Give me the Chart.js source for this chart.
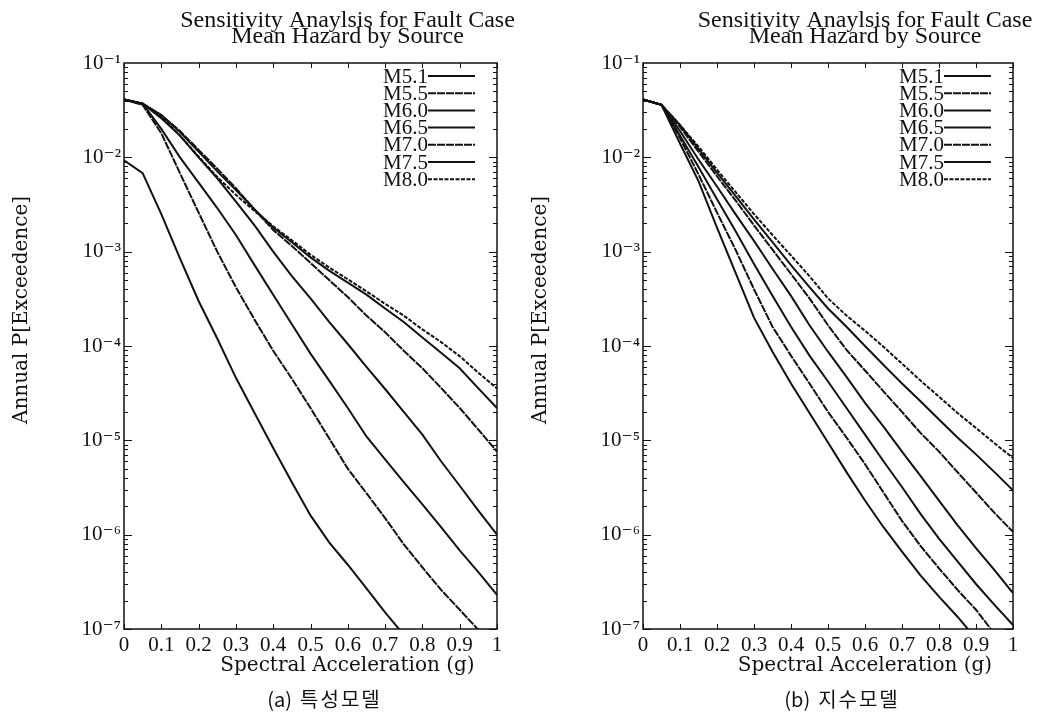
<!DOCTYPE html>
<html>
<head>
<meta charset="utf-8">
<title>Mean Hazard by Source</title>
<script src="https://cdn.jsdelivr.net/npm/chart.js@4.4.1/dist/chart.umd.min.js"></script>
<style>
  html, body { margin: 0; padding: 0; background: #fff; }
  #wrap { position: relative; width: 1048px; height: 727px; overflow: hidden; }
  canvas { position: absolute; top: 0; }
  #chartA { left: 0; }
  #chartB { left: 519px; }
</style>
</head>
<body>
<div id="wrap">
  <canvas id="chartA" width="524" height="727"></canvas>
  <canvas id="chartB" width="524" height="727"></canvas>
</div>
<script>
// spectral acceleration (g) where the hazard is evaluated
var accel = [0, 0.05, 0.1, 0.15, 0.2, 0.25, 0.3, 0.35, 0.4, 0.45, 0.5,
             0.55, 0.6, 0.65, 0.7, 0.75, 0.8, 0.85, 0.9, 0.95, 1.0];
var magnitudes = ['M5.1', 'M5.5', 'M6.0', 'M6.5', 'M7.0', 'M7.5', 'M8.0'];
var dashes = [[], [8, 1], [], [], [8, 1], [], [4, 1.5]];
var decadeTicks = [1e-1, 1e-2, 1e-3, 1e-4, 1e-5, 1e-6, 1e-7];
var titleLines = ['Sensitivity Anaylsis for Fault Case', 'Mean Hazard by Source'];

// (a) characteristic model - annual exceedance probability
var charM51 = [9.3e-3, 6.8e-3, 2.5e-3, 8.5e-4, 3.0e-4, 1.2e-4, 4.6e-5, 1.95e-5, 8.3e-6, 3.6e-6, 1.6e-6,
               8.3e-7, 4.8e-7, 2.7e-7, 1.5e-7, 8.7e-8];
var charM55 = [4.1e-2, 3.6e-2, 1.8e-2, 6.8e-3, 2.6e-3, 1.0e-3, 4.2e-4, 1.9e-4, 8.9e-5, 4.5e-5, 2.2e-5,
               1.05e-5, 5.0e-6, 2.75e-6, 1.5e-6, 7.9e-7, 4.5e-7, 2.6e-7, 1.6e-7, 9.8e-8];
var charM60 = [4.1e-2, 3.7e-2, 2.0e-2, 1.0e-2, 5.4e-3, 2.9e-3, 1.5e-3, 7.2e-4, 3.5e-4, 1.7e-4, 8.3e-5,
               4.3e-5, 2.2e-5, 1.1e-5, 6.3e-6, 3.6e-6, 2.1e-6, 1.2e-6, 6.8e-7, 4.0e-7, 2.3e-7];
var charM65 = [4.1e-2, 3.7e-2, 2.6e-2, 1.7e-2, 1.0e-2, 6.0e-3, 3.4e-3, 1.9e-3, 1.0e-3, 5.5e-4, 3.2e-4,
               1.8e-4, 1.05e-4, 6.0e-5, 3.5e-5, 2.0e-5, 1.15e-5, 6.0e-6, 3.3e-6, 1.8e-6, 1.0e-6];
var charM70 = [4.1e-2, 3.7e-2, 2.8e-2, 1.9e-2, 1.2e-2, 7.6e-3, 4.7e-3, 2.8e-3, 1.7e-3, 1.15e-3, 7.6e-4,
               5.0e-4, 3.3e-4, 2.1e-4, 1.4e-4, 8.9e-5, 5.8e-5, 3.6e-5, 2.2e-5, 1.3e-5, 7.6e-6];
var charM75 = [4.1e-2, 3.7e-2, 2.8e-2, 1.85e-2, 1.15e-2, 7.1e-3, 4.5e-3, 2.8e-3, 1.8e-3, 1.26e-3, 8.7e-4,
               6.3e-4, 4.7e-4, 3.5e-4, 2.5e-4, 1.8e-4, 1.23e-4, 8.5e-5, 5.8e-5, 3.55e-5, 2.2e-5];
var charM80 = [4.1e-2, 3.7e-2, 2.7e-2, 1.7e-2, 1.02e-2, 6.2e-3, 4.0e-3, 2.7e-3, 1.86e-3, 1.32e-3, 9.3e-4,
               6.8e-4, 5.1e-4, 3.8e-4, 2.8e-4, 2.1e-4, 1.5e-4, 1.1e-4, 7.8e-5, 5.2e-5, 3.55e-5];

// (b) exponential model
var expM51 = [4.1e-2, 3.6e-2, 1.4e-2, 5.6e-3, 1.8e-3, 6.0e-4, 2.0e-4, 8.7e-5, 4.0e-5, 1.95e-5, 9.5e-6,
              4.6e-6, 2.3e-6, 1.2e-6, 6.6e-7, 3.7e-7, 2.2e-7, 1.35e-7, 7.9e-8];
var expM55 = [4.1e-2, 3.6e-2, 1.6e-2, 6.6e-3, 2.6e-3, 1.05e-3, 4.0e-4, 1.6e-4, 7.9e-5, 4.0e-5, 2.0e-5,
              1.07e-5, 5.6e-6, 2.8e-6, 1.4e-6, 7.6e-7, 4.4e-7, 2.6e-7, 1.6e-7, 8.9e-8];
var expM60 = [4.1e-2, 3.6e-2, 1.7e-2, 7.9e-3, 3.6e-3, 1.66e-3, 7.4e-4, 3.4e-4, 1.6e-4, 7.9e-5, 4.2e-5,
              2.2e-5, 1.15e-5, 6.0e-6, 3.2e-6, 1.66e-6, 9.1e-7, 5.2e-7, 3.0e-7, 1.8e-7, 1.1e-7];
var expM65 = [4.1e-2, 3.6e-2, 1.9e-2, 9.5e-3, 4.9e-3, 2.5e-3, 1.3e-3, 6.6e-4, 3.4e-4, 1.66e-4, 8.7e-5,
              4.7e-5, 2.5e-5, 1.4e-5, 7.6e-6, 4.2e-6, 2.3e-6, 1.26e-6, 7.2e-7, 4.2e-7, 2.4e-7];
var expM70 = [4.1e-2, 3.6e-2, 2.1e-2, 1.15e-2, 6.3e-3, 3.5e-3, 1.9e-3, 1.05e-3, 5.8e-4, 3.2e-4, 1.66e-4,
              9.1e-5, 5.5e-5, 3.3e-5, 2.0e-5, 1.2e-5, 7.6e-6, 4.6e-6, 2.8e-6, 1.7e-6, 1.07e-6];
var expM75 = [4.1e-2, 3.6e-2, 2.2e-2, 1.23e-2, 6.9e-3, 3.9e-3, 2.2e-3, 1.26e-3, 7.2e-4, 4.2e-4, 2.5e-4,
              1.6e-4, 1.0e-4, 6.3e-5, 4.0e-5, 2.6e-5, 1.66e-5, 1.07e-5, 7.1e-6, 4.6e-6, 2.95e-6];
var expM80 = [4.1e-2, 3.6e-2, 2.2e-2, 1.3e-2, 7.4e-3, 4.3e-3, 2.5e-3, 1.5e-3, 9.1e-4, 5.5e-4, 3.2e-4,
              2.1e-4, 1.45e-4, 9.8e-5, 6.5e-5, 4.3e-5, 2.9e-5, 1.95e-5, 1.35e-5, 9.3e-6, 6.5e-6];

var ink = '#111';
var serif = '"Liberation Serif", "DejaVu Serif", serif';

function supExp(e) {
    var map = { '-': '\u207B', '0': '\u2070', '1': '\u00B9', '2': '\u00B2', '3': '\u00B3', '4': '\u2074',
                '5': '\u2075', '6': '\u2076', '7': '\u2077', '8': '\u2078', '9': '\u2079' };
    return String(e).split('').map(function (c) { return map[c]; }).join('');
}

// box, inward ticks, in-plot legend and the text around the plot
var frame = {
    id: 'frame',
    afterDraw: function (chart, args, opts) {
        var ctx = chart.ctx, a = chart.chartArea;
        var sx = chart.scales.x, sy = chart.scales.y;
        var cx = (a.left + a.right) / 2;
        ctx.save();
        ctx.strokeStyle = ink;
        ctx.fillStyle = ink;

        ctx.lineWidth = 1;
        ctx.beginPath();
        for (var t = 0; t <= 10; t++) {
            var px = Math.round(sx.getPixelForValue(t / 10)) + 0.5;
            ctx.moveTo(px, a.bottom); ctx.lineTo(px, a.bottom - 5);
            ctx.moveTo(px, a.top); ctx.lineTo(px, a.top + 5);
        }
        for (var e = -7; e < -1; e++) {
            for (var m = 1; m < 10; m++) {
                var py = Math.round(sy.getPixelForValue(m * Math.pow(10, e))) + 0.5;
                var len = m === 1 ? 8 : 4;
                ctx.moveTo(a.left, py); ctx.lineTo(a.left + len, py);
                ctx.moveTo(a.right, py); ctx.lineTo(a.right - len, py);
            }
        }
        ctx.stroke();

        ctx.lineWidth = 1.5;
        ctx.strokeRect(a.left, a.top, a.right - a.left, a.bottom - a.top);

        // legend: label then a short line sample
        ctx.font = '21px ' + serif;
        ctx.textAlign = 'right';
        ctx.textBaseline = 'middle';
        chart.data.datasets.forEach(function (ds, i) {
            var y = a.top + 13 + i * 17.2;
            var x0 = a.right - 69, x1 = a.right - 22;
            ctx.fillText(ds.label, x0, y + 1);
            ctx.lineWidth = 2;
            ctx.setLineDash(ds.borderDash || []);
            ctx.beginPath();
            ctx.moveTo(x0, y); ctx.lineTo(x1, y);
            ctx.stroke();
        });
        ctx.setLineDash([]);

        ctx.textAlign = 'center';
        ctx.textBaseline = 'alphabetic';
        ctx.font = '24px ' + serif;
        ctx.fillText(titleLines[0], cx + 37, 27);
        ctx.fillText(titleLines[1], cx + 37, 43);

        ctx.font = '20px "DejaVu Serif", serif';
        ctx.fillText('Spectral Acceleration (g)', cx + 37, 671);

        ctx.save();
        ctx.translate(a.left - 102, 310);
        ctx.rotate(-Math.PI / 2);
        ctx.textBaseline = 'middle';
        ctx.fillText('Annual P[Exceedence]', 0, 0);
        ctx.restore();

        // caption: "(x)" then the model name with wider letter spacing
        ctx.font = '20px "Noto Sans CJK KR", sans-serif';
        ctx.textBaseline = 'middle';
        ctx.textAlign = 'left';
        var gap = 8;
        var w1 = ctx.measureText(opts.tag).width;
        if ('letterSpacing' in ctx) ctx.letterSpacing = '2px';
        var w2 = ctx.measureText(opts.name).width;
        var x = cx + 14 - (w1 + gap + w2) / 2;
        ctx.fillText(opts.name, x + w1 + gap, 699);
        if ('letterSpacing' in ctx) ctx.letterSpacing = '0px';
        ctx.fillText(opts.tag, x, 699);
        ctx.restore();
    }
};

function series(values) {
    return values.map(function (v, i) { return { x: accel[i], y: v }; });
}

function buildChart(id, curves, tag, name, padRight) {
    return new Chart(document.getElementById(id), {
        type: 'line',
        data: {
            datasets: curves.map(function (vals, i) {
                return {
                    label: magnitudes[i],
                    data: series(vals),
                    borderColor: ink,
                    borderWidth: 2,
                    borderDash: dashes[i],
                    pointRadius: 0,
                    tension: 0,
                    fill: false
                };
            })
        },
        options: {
            responsive: false,
            animation: false,
            devicePixelRatio: 1,
            layout: { padding: { left: 0, top: 63, right: padRight, bottom: 58 } },
            plugins: {
                legend: { display: false },
                tooltip: { enabled: false },
                frame: { tag: tag, name: name }
            },
            scales: {
                x: {
                    type: 'linear',
                    min: 0,
                    max: 1,
                    grid: { display: false, drawTicks: false },
                    border: { display: false },
                    afterFit: function (scale) { scale.height = 40; },
                    ticks: {
                        stepSize: 0.1,
                        autoSkip: false,
                        maxRotation: 0,
                        padding: 4,
                        color: ink,
                        font: { family: serif, size: 21 },
                        callback: function (v) { return String(Number(v.toFixed(1))); }
                    }
                },
                y: {
                    type: 'logarithmic',
                    min: 1e-7,
                    max: 1e-1,
                    grid: { display: false, drawTicks: false },
                    border: { display: false },
                    afterFit: function (scale) { scale.width = 124; },
                    afterBuildTicks: function (scale) {
                        scale.ticks = decadeTicks.map(function (v) { return { value: v }; });
                    },
                    ticks: {
                        padding: 3,
                        color: ink,
                        font: { family: serif, size: 21 },
                        callback: function (v) { return '10' + supExp(Math.round(Math.log10(v))); }
                    }
                }
            }
        },
        plugins: [frame]
    });
}

buildChart('chartA', [charM51, charM55, charM60, charM65, charM70, charM75, charM80], '(a)', '특성모델', 27);
buildChart('chartB', [expM51, expM55, expM60, expM65, expM70, expM75, expM80], '(b)', '지수모델', 30);
</script>
</body>
</html>
